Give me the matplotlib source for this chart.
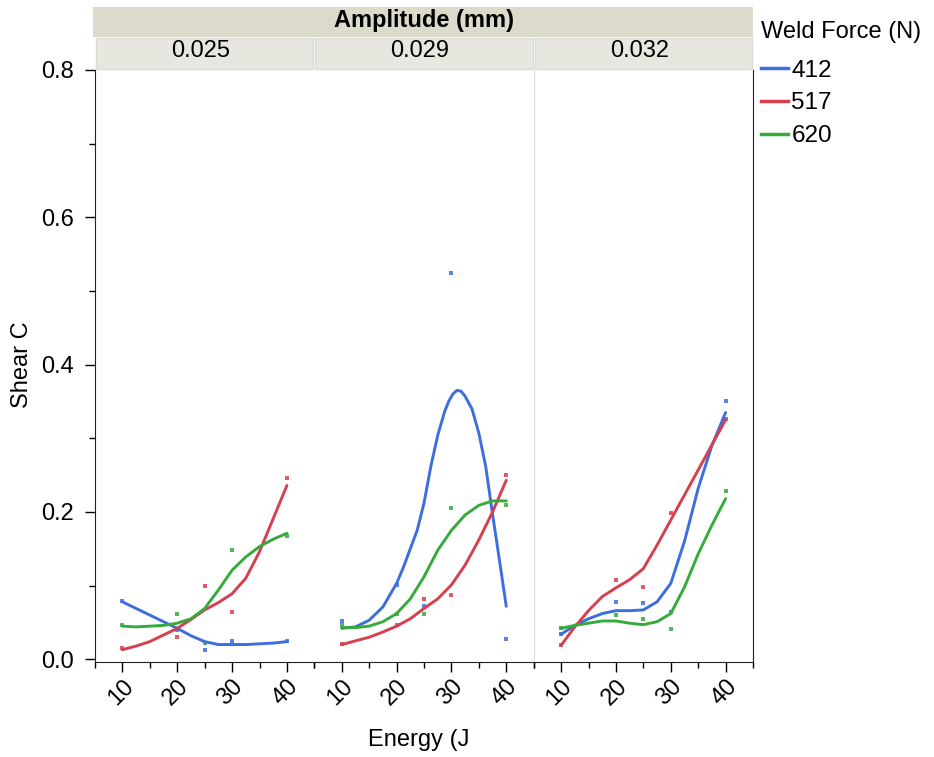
import numpy as np
import matplotlib
matplotlib.use("Agg")
import matplotlib.pyplot as plt
from matplotlib.lines import Line2D
from matplotlib.patches import Rectangle

plt.rcParams['font.family'] = ['Liberation Sans', 'DejaVu Sans']

# Energy levels of the measured points
energy = [10, 20, 25, 30, 40]
amplitudes = ["0.025", "0.029", "0.032"]
forces = ["412", "517", "620"]
colors = {"412": "#3d6edf", "517": "#d6404e", "620": "#36aa3c"}

# Measured Shear C per amplitude and weld force
shear_025 = {"412": [0.079, 0.040, 0.012, 0.025, 0.025],
             "517": [0.016, 0.030, 0.099, 0.064, 0.246],
             "620": [0.046, 0.062, 0.022, 0.148, 0.167]}
shear_029 = {"412": [0.052, 0.101, 0.072, 0.524, 0.027],
             "517": [0.021, 0.046, 0.082, 0.087, 0.250],
             "620": [0.047, 0.062, 0.062, 0.206, 0.210]}
shear_032 = {"412": [0.034, 0.078, 0.076, 0.064, 0.350],
             "517": [0.019, 0.108, 0.098, 0.199, 0.326],
             "620": [0.042, 0.060, 0.055, 0.041, 0.229]}

# Smoother curves
fit_x = [10, 12.5, 15, 17.5, 20, 22.5, 25, 27.5, 30, 32.5, 35, 37.5, 40]
fit_025 = {"412": [0.078, 0.069, 0.060, 0.051, 0.042, 0.032, 0.024, 0.020, 0.020, 0.020, 0.021, 0.022, 0.024],
           "517": [0.013, 0.018, 0.024, 0.033, 0.042, 0.054, 0.067, 0.077, 0.089, 0.110, 0.146, 0.191, 0.236],
           "620": [0.045, 0.044, 0.045, 0.046, 0.049, 0.055, 0.069, 0.094, 0.121, 0.139, 0.153, 0.163, 0.171]}
fit_029 = {"517": [0.020, 0.025, 0.030, 0.037, 0.045, 0.055, 0.069, 0.082, 0.101, 0.128, 0.162, 0.200, 0.243],
           "620": [0.043, 0.043, 0.045, 0.051, 0.062, 0.082, 0.112, 0.148, 0.175, 0.196, 0.209, 0.215, 0.215]}
fit_x_fine = [10, 12.5, 15, 17.5, 20, 21.25, 22.5, 23.75, 25, 26.25, 27.5, 28.75, 29.5, 30.25,
              31.0, 31.75, 32.5, 33.75, 35, 36.25, 37.5, 38.75, 40]
fit_029_412 = [0.042, 0.044, 0.053, 0.071, 0.103, 0.125, 0.150, 0.175, 0.212, 0.262, 0.304, 0.336,
               0.350, 0.360, 0.365, 0.364, 0.357, 0.340, 0.307, 0.262, 0.197, 0.135, 0.072]
fit_032 = {"412": [0.034, 0.046, 0.055, 0.062, 0.066, 0.066, 0.067, 0.078, 0.103, 0.160, 0.232, 0.290, 0.335],
           "517": [0.019, 0.044, 0.066, 0.085, 0.097, 0.108, 0.123, 0.155, 0.189, 0.223, 0.257, 0.291, 0.325],
           "620": [0.042, 0.046, 0.049, 0.052, 0.052, 0.049, 0.047, 0.051, 0.062, 0.098, 0.143, 0.182, 0.218]}

W, H = 934, 757
fig = plt.figure(figsize=(W / 100, H / 100), dpi=100)

left, right = 95, 753
top, bottom = 70, 661.5
pw = (right - left) / 3
fs = 17

points = [shear_025, shear_029, shear_032]
fits = [fit_025, fit_029, fit_032]
for i in range(3):
    ax = fig.add_axes([(left + i * pw) / W, (H - bottom) / H, pw / W, (bottom - top) / H])
    for f in forces:
        c = colors[f]
        ax.plot(energy, points[i][f], 's', color=c, ms=2.3, mew=0, alpha=0.85, zorder=2)
        if i == 1 and f == "412":
            ax.plot(fit_x_fine, fit_029_412, color=c, lw=2.1, zorder=3,
                    solid_capstyle='round', solid_joinstyle='round')
        else:
            ax.plot(fit_x, fits[i][f], color=c, lw=2.1, zorder=3,
                    solid_capstyle='round', solid_joinstyle='round')
    ax.set_xlim(5, 45)
    ax.set_ylim(-0.003, 0.8)
    ax.set_xticks([10, 20, 30, 40])
    ax.set_xticks([5, 15, 25, 35, 45], minor=True)
    ax.set_xticklabels(["10", "20", "30", "40"], rotation=45, ha='right', va='top',
                       rotation_mode='anchor', fontsize=fs)
    ax.tick_params(axis='x', which='major', length=7, width=1, direction='out', pad=3)
    ax.tick_params(axis='x', which='minor', length=4, width=1, direction='out')
    ax.spines['top'].set_visible(False)
    ax.spines['bottom'].set_color('#222222')
    if i == 0:
        ax.set_yticks([0, 0.2, 0.4, 0.6, 0.8])
        ax.set_yticks([0.1, 0.3, 0.5, 0.7], minor=True)
        ax.set_yticklabels(["0.0", "0.2", "0.4", "0.6", "0.8"], fontsize=fs)
        ax.tick_params(axis='y', which='major', length=7, width=1, direction='out', pad=8)
        ax.tick_params(axis='y', which='minor', length=4, width=1, direction='out')
        ax.spines['left'].set_color('#222222')
    else:
        ax.tick_params(axis='y', which='both', left=False, labelleft=False)
        ax.spines['left'].set_visible(i == 2)
        ax.spines['left'].set_color('#dddddd')
    ax.spines['right'].set_visible(i == 2)
    ax.spines['right'].set_color('#222222')
    ax.patch.set_alpha(0)

# strip headers
fig.patches.append(Rectangle((93 / W, (H - 37) / H), (right - 93) / W, 30 / H,
                             transform=fig.transFigure, facecolor='#dcdacb', edgecolor='none'))
for i, amp in enumerate(amplitudes):
    x0 = left + i * pw
    fig.patches.append(Rectangle(((x0 + 1) / W, (H - 69) / H), (pw - 2) / W, 31 / H,
                                 transform=fig.transFigure, facecolor='#e7e7df',
                                 edgecolor='#dcdcd4', lw=1))
    fig.text((x0 + pw / 2 - 4) / W, (H - 51) / H, amp, ha='center', va='center', fontsize=fs)
fig.text((left + right) / 2 / W, (H - 20) / H, "Amplitude (mm)", ha='center', va='center',
         fontsize=fs, fontweight='bold')

fig.text(22 / W, (H - 365) / H, "Shear C", rotation=90, ha='center', va='center', fontsize=fs)
fig.text(419 / W, (H - 740) / H, "Energy (J", ha='center', va='center', fontsize=fs)

handles = [Line2D([], [], color=colors[f], lw=2.5) for f in forces]
leg = fig.legend(handles, forces, title="Weld Force (N)", loc='upper left',
                 bbox_to_anchor=(761 / W, (H - 21) / H), frameon=False, fontsize=fs + 0.5,
                 title_fontsize=fs, handlelength=1.1, handletextpad=0.15,
                 labelspacing=0.44, borderaxespad=0, borderpad=0)
leg._legend_box.align = 'left'
leg._legend_box.sep = 12

fig.savefig("out.png", dpi=100)
